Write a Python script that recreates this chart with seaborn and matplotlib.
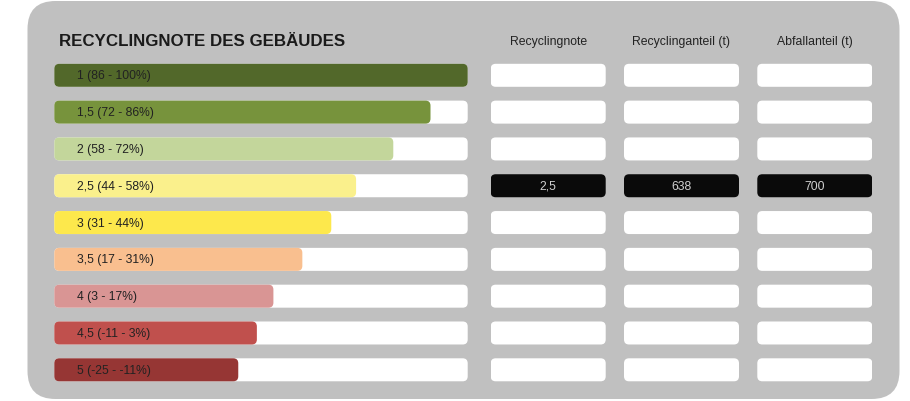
import numpy as np
import pandas as pd
import seaborn as sns
import matplotlib.pyplot as plt
from matplotlib.patches import FancyBboxPatch

# Daten
noten = ["1", "1,5", "2", "2,5", "3", "3,5", "4", "4,5", "5"]
bereiche = ["86 - 100%", "72 - 86%", "58 - 72%", "44 - 58%", "31 - 44%",
            "17 - 31%", "3 - 17%", "-11 - 3%", "-25 - -11%"]
balken = [100, 91, 82, 73, 67, 60, 53, 49, 44.5]
farben = ["#52682a", "#77933c", "#c3d69b", "#faf08c", "#fde84c",
          "#f9bf8f", "#d99594", "#c0504d", "#963634"]
skala_max = 100
spalten = ["Recyclingnote", "Recyclinganteil (t)", "Abfallanteil (t)"]
auswahl = "2,5"
werte = ["2,5", "638", "700"]

sns.set_style("white")
plt.rcParams['font.family'] = ['Liberation Sans', 'DejaVu Sans']

W, H = 910, 402
fig = plt.figure(figsize=(W / 100, H / 100), dpi=100)
fig.patch.set_facecolor("white")

# Hintergrund (Pixelkoordinaten)
bg = fig.add_axes([0, 0, 1, 1])
bg.set_xlim(0, W)
bg.set_ylim(H, 0)
bg.axis("off")
bg.add_patch(FancyBboxPatch((27.5, 2), 872, 398, boxstyle="round,pad=0,rounding_size=28",
                            fc="#c0c0c0", ec="none"))
bg.text(59, 41, "RECYCLINGNOTE DES GEBÄUDES", fontsize=12.2, fontweight="bold",
        color="#1a1a1a", va="center", ha="left")

row_px = 36.8
top_px, bot_px = 57.9, 389.2
ax_b = (H - bot_px) / H
ax_h = (bot_px - top_px) / H
bar_w = 23 / row_px

df = pd.DataFrame({"label": [f"{n} ({b})" for n, b in zip(noten, bereiche)],
                   "note": noten, "wert": balken})


def abrunden(ax, px_x, radius=5):
    # Balken durch abgerundete Rechtecke ersetzen
    x0, x1 = ax.get_xlim()
    ux = (x1 - x0) / px_x
    uy = 1 / row_px
    for p in list(ax.patches):
        r = FancyBboxPatch((p.get_x(), p.get_y()), p.get_width(), p.get_height(),
                           boxstyle=f"round,pad=0,rounding_size={radius * ux}",
                           mutation_aspect=uy / ux, fc=p.get_facecolor(), ec="none",
                           zorder=p.get_zorder())
        p.remove()
        ax.add_patch(r)


# linke Skala
links_px, breite_px = 54.3, 413.4
ax = fig.add_axes([links_px / W, ax_b, breite_px / W, ax_h])
sns.barplot(x=np.full(len(noten), skala_max), y=df["note"], color="white",
            width=bar_w, orient="h", saturation=1, ax=ax)
sns.barplot(data=df, x="wert", y="note", hue="note", palette=farben, width=bar_w,
            orient="h", saturation=1, legend=False, ax=ax)
ax.set_xlim(0, skala_max)
ax.set_ylim(len(noten) - 0.5, -0.5)
abrunden(ax, breite_px)
for i, lab in enumerate(df["label"]):
    ax.text(22.4 * skala_max / breite_px, i, lab, fontsize=8.7, color="#222222",
            va="center", ha="left")
ax.axis("off")

# rechte Tabelle
spalten_px = [490.7, 624.0, 757.3]
box_px = 115
for name, x_px, wert in zip(spalten, spalten_px, werte):
    axc = fig.add_axes([x_px / W, ax_b, box_px / W, ax_h])
    pal = {n: ("#0a0a0a" if n == auswahl else "white") for n in noten}
    sns.barplot(x=np.ones(len(noten)), y=df["note"], hue=df["note"], palette=pal,
                width=bar_w, orient="h", saturation=1, legend=False, ax=axc)
    axc.set_xlim(0, 1)
    axc.set_ylim(len(noten) - 0.5, -0.5)
    abrunden(axc, box_px)
    axc.text(0.5, 1 + 16.2 / (bot_px - top_px), name, transform=axc.transAxes,
             fontsize=8.8, color="#222222", ha="center", va="center")
    axc.text(0.5, noten.index(auswahl), wert, fontsize=8.8, color="#d0d0d0",
             ha="center", va="center")
    axc.axis("off")

fig.savefig("out.png", dpi=100)
